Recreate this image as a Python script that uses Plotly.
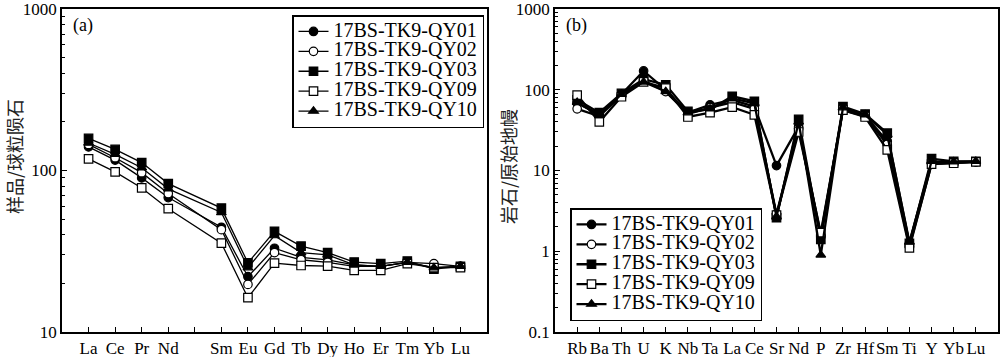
import plotly.graph_objects as go

# ---------------- data ----------------
samples = ["17BS-TK9-QY01", "17BS-TK9-QY02", "17BS-TK9-QY03", "17BS-TK9-QY09", "17BS-TK9-QY10"]

ree_elements = ["La", "Ce", "Pr", "Nd", "Pm", "Sm", "Eu", "Gd", "Tb", "Dy", "Ho", "Er", "Tm", "Yb", "Lu"]
ree_ticktext = ["La", "Ce", "Pr", "Nd", "", "Sm", "Eu", "Gd", "Tb", "Dy", "Ho", "Er", "Tm", "Yb", "Lu"]

ree_qy01 = [140, 116, 90, 68, None, 44.5, 22.0, 33.0, 29.0, 28.0, 26.0, 25.5, 27.0, 25.0, 25.5]
ree_qy02 = [145, 120, 97, 72, None, 43.0, 19.7, 31.0, 28.0, 27.0, 25.5, 25.5, 27.0, 26.5, 25.5]
ree_qy03 = [158, 135, 112, 83, None, 58.5, 26.8, 42.0, 34.0, 31.0, 27.1, 26.5, 27.5, 24.5, 25.5]
ree_qy09 = [118, 98, 78, 58, None, 35.5, 16.3, 26.7, 25.8, 25.6, 24.1, 24.1, 26.5, 25.0, 25.0]
ree_qy10 = [148, 126, 104, 77, None, 55.0, 25.0, 39.5, 31.0, 30.0, 26.0, 25.5, 27.0, 25.0, 25.5]

spider_elements = ["Rb", "Ba", "Th", "U", "K", "Nb", "Ta", "La", "Ce", "Sr",
                   "Nd", "P", "Zr", "Hf", "Sm", "Ti", "Y", "Yb", "Lu"]
spider_qy01 = [68, 50, 88, 171, 100, 52, 65, 75, 62, 11.5, 35, 1.6, 58, 48, 23, 1.25, 12.5, 12.5, 12.8]
spider_qy02 = [58, 47, 86, 130, 95, 50, 60, 70, 58, 2.9, 33, 1.5, 56, 47, 21, 1.15, 12.0, 12.5, 12.8]
spider_qy03 = [75, 52, 90, 135, 115, 54, 57, 83, 72, 2.6, 43, 1.4, 62, 50, 29, 1.25, 14.0, 13.0, 13.0]
spider_qy09 = [86, 40, 82, 125, 105, 46, 52, 61, 49, 2.8, 30, 1.7, 56, 46, 18, 1.1, 12.0, 12.3, 12.8]
spider_qy10 = [70, 48, 88, 125, 95, 52, 58, 78, 68, 2.7, 40, 0.9, 60, 49, 28, 1.3, 13.0, 12.8, 13.0]

left_ytickvals = [10, 100, 1000]
left_yticktext = ["10", "100", "1000"]
right_ytickvals = [0.1, 1, 10, 100, 1000]
right_yticktext = ["0.1", "1", "10", "100", "1000"]

# ---------------- styles ----------------
marker_symbols = ["circle", "circle", "square", "square", "triangle-up"]
marker_fills = ["black", "white", "black", "white", "black"]

ree_series = [ree_qy01, ree_qy02, ree_qy03, ree_qy09, ree_qy10]
spider_series = [spider_qy01, spider_qy02, spider_qy03, spider_qy09, spider_qy10]

SERIF = "Liberation Serif"
CJK = "Noto Sans CJK SC"

def legend_label(name):
    # larger legend text, while the legend row spacing follows the (smaller) legend font size
    return '<span style="font-size:20px">' + name + '</span>'

fig = go.Figure()

for i, name in enumerate(samples):
    fig.add_trace(go.Scatter(
        x=ree_elements, y=ree_series[i], name=legend_label(name), mode="lines+markers",
        connectgaps=True, xaxis="x", yaxis="y", legend="legend",
        line=dict(color="black", width=1.3),
        marker=dict(symbol=marker_symbols[i], size=8.5, color=marker_fills[i],
                    line=dict(color="black", width=1.2)),
    ))

for i, name in enumerate(samples):
    fig.add_trace(go.Scatter(
        x=spider_elements, y=spider_series[i], name=legend_label(name), mode="lines+markers",
        xaxis="x2", yaxis="y2", legend="legend2",
        line=dict(color="black", width=2.3),
        marker=dict(symbol=marker_symbols[i], size=8.5, color=marker_fills[i],
                    line=dict(color="black", width=1.2)),
    ))

def minor_vals(lo_exp, hi_exp):
    return [m * 10 ** e for e in range(lo_exp, hi_exp) for m in range(2, 10)]

axis_common = dict(showline=True, linecolor="black", linewidth=1.5, mirror=True,
                   showgrid=False, zeroline=False, ticks="inside", ticklen=5,
                   tickwidth=1.3, tickcolor="black", ticklabeloverflow="allow",
                   tickfont=dict(family=SERIF, size=17, color="black"))

legend_common = dict(bgcolor="white", bordercolor="black", borderwidth=1.5,
                     font=dict(family=SERIF, size=13, color="black"),
                     tracegroupgap=0, itemwidth=30)

Y_DOMAIN = [0.070, 1 - 9 / 357]

fig.update_layout(
    width=1000, height=357,
    margin=dict(l=0, r=0, t=0, b=0, autoexpand=False),
    paper_bgcolor="white", plot_bgcolor="white",
    showlegend=True,
    xaxis=dict(domain=[0.062, 0.487], anchor="y", type="category",
               categoryorder="array", categoryarray=ree_elements,
               tickmode="array", tickvals=ree_elements, ticktext=ree_ticktext,
               tickangle=0, range=[-1, 15], **axis_common),
    yaxis=dict(domain=Y_DOMAIN, anchor="x", type="log", range=[0.9998, 3.0002],
               tickmode="array", tickvals=left_ytickvals, ticktext=left_yticktext,
               minor=dict(ticks="inside", ticklen=3, tickwidth=1, tickcolor="black",
                          tickmode="array", tickvals=minor_vals(1, 3), showgrid=False),
               **axis_common),
    xaxis2=dict(domain=[0.555, 0.998], anchor="y2", type="category",
                categoryorder="array", categoryarray=spider_elements,
                tickmode="array", tickvals=spider_elements, ticktext=spider_elements,
                tickangle=0, range=[-1, 19], **axis_common),
    yaxis2=dict(domain=Y_DOMAIN, anchor="x2", type="log", range=[-1.0004, 3.0004],
                tickmode="array", tickvals=right_ytickvals, ticktext=right_yticktext,
                minor=dict(ticks="inside", ticklen=3, tickwidth=1, tickcolor="black",
                           tickmode="array", tickvals=minor_vals(-1, 3), showgrid=False),
                **axis_common),
    legend=dict(x=0.484, y=1 - 15 / 357, xanchor="right", yanchor="top", **legend_common),
    legend2=dict(x=0.570, y=1 - 321 / 357, xanchor="left", yanchor="bottom", **legend_common),
    annotations=[
        dict(text="(a)", x=0.071, y=1 - 13 / 357, xref="paper", yref="paper",
             xanchor="left", yanchor="top", showarrow=False,
             font=dict(family=SERIF, size=18, color="black")),
        dict(text="(b)", x=0.564, y=1 - 13 / 357, xref="paper", yref="paper",
             xanchor="left", yanchor="top", showarrow=False,
             font=dict(family=SERIF, size=18, color="black")),
        dict(text="样品/球粒陨石", x=0.014, y=1 - 157 / 357, xref="paper", yref="paper",
             xanchor="center", yanchor="middle", textangle=-90, showarrow=False,
             font=dict(family=CJK, size=18, color="#222")),
        dict(text="岩石/原始地幔", x=0.508, y=1 - 167 / 357, xref="paper", yref="paper",
             xanchor="center", yanchor="middle", textangle=-90, showarrow=False,
             font=dict(family=CJK, size=18, color="#222")),
    ],
)

fig.write_html("out.html",
               config={"displayModeBar": False},
               post_script="document.body.style.margin='0px';document.body.style.overflow='hidden';")
